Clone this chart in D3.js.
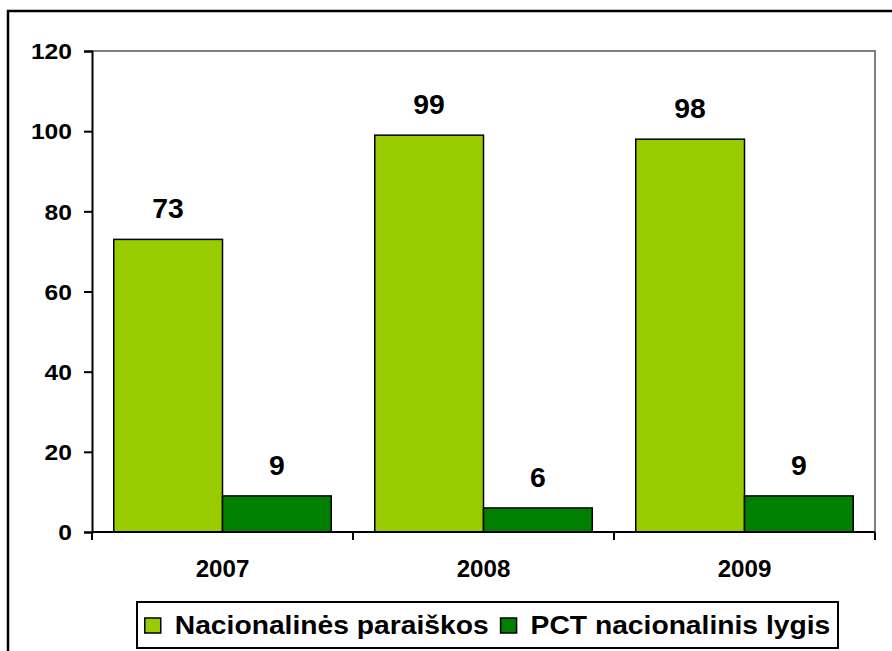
<!DOCTYPE html>
<html>
<head>
<meta charset="utf-8">
<script src="https://cdn.jsdelivr.net/npm/d3@7"></script>
<style>
  html, body { margin: 0; padding: 0; background: #fff; }
  svg { display: block; font-family: Arial, "Liberation Sans", sans-serif; font-weight: bold; }
</style>
</head>
<body>
<div id="chart"></div>
<script>
// data
const years = ['2007', '2008', '2009'];
const seriesNames = ['Nacionalinės paraiškos', 'PCT nacionalinis lygis'];
const nacionalines = [73, 99, 98];
const pct = [9, 6, 9];
const yTicks = [0, 20, 40, 60, 80, 100, 120];
const colors = ['#99cc00', '#008000'];

const width = 892;
const height = 651;
const margin = { top: 51, right: 17, bottom: 119, left: 92 };
const innerW = width - margin.left - margin.right;
const innerH = height - margin.top - margin.bottom;

const rows = years.map((y, i) => ({ year: y, values: [nacionalines[i], pct[i]] }));

const x0 = d3.scaleBand().domain(years).range([0, innerW]).paddingInner(0).paddingOuter(0);
const x1 = d3.scaleBand().domain([0, 1]).range([0, x0.bandwidth()]).paddingOuter(0.2).paddingInner(0);
const y = d3.scaleLinear().domain([0, 120]).range([innerH, 0]);

const svg = d3.select('#chart').append('svg')
  .attr('width', width).attr('height', height);

// outer frame (only left/top visible in the picture)
svg.append('rect')
  .attr('x', 8).attr('y', 11).attr('width', width + 20).attr('height', height + 20)
  .attr('fill', 'none').attr('stroke', '#000').attr('stroke-width', 2.5);

const g = svg.append('g').attr('transform', `translate(${margin.left},${margin.top})`);

// plot area border (grey)
g.append('path')
  .attr('d', `M0,0H${innerW}V${innerH}`)
  .attr('fill', 'none').attr('stroke', '#808080').attr('stroke-width', 2);

const groups = g.selectAll('g.year')
  .data(rows)
  .join('g')
  .attr('class', 'year')
  .attr('transform', (d) => `translate(${x0(d.year)},0)`);

groups.selectAll('rect')
  .data((d) => d.values.map((v, i) => ({ v, i })))
  .join('rect')
  .attr('x', (d) => x1(d.i))
  .attr('y', (d) => y(d.v))
  .attr('width', x1.bandwidth())
  .attr('height', (d) => innerH - y(d.v))
  .attr('fill', (d) => colors[d.i])
  .attr('stroke', '#000')
  .attr('stroke-width', 1.5);

groups.selectAll('text.val')
  .data((d) => d.values.map((v, i) => ({ v, i })))
  .join('text')
  .attr('class', 'val')
  .attr('text-anchor', 'middle')
  .attr('transform', (d) => `translate(${x1(d.i) + x1.bandwidth() / 2},${y(d.v) - 21}) scale(1.05,1)`)
  .style('font-size', '27px')
  .text((d) => d.v);

// y axis
const yAxis = g.append('g')
  .call(d3.axisLeft(y).tickValues(yTicks).tickSize(8).tickPadding(12));
yAxis.attr('font-family', null).attr('font-size', null);
yAxis.selectAll('path, line').attr('stroke', '#000').attr('stroke-width', 2);
yAxis.selectAll('text')
  .style('font-size', '22px').attr('fill', '#000')
  .attr('x', 0).attr('dy', '0.35em')
  .attr('transform', 'translate(-20,0) scale(1.12,1)');

// x axis: ticks at band edges
const xAxis = g.append('g').attr('transform', `translate(0,${innerH})`);
xAxis.append('line').attr('x1', 0).attr('x2', innerW)
  .attr('stroke', '#000').attr('stroke-width', 2);
const edges = years.map((d) => x0(d)).concat([innerW]);
xAxis.selectAll('line.tick')
  .data(edges)
  .join('line')
  .attr('class', 'tick')
  .attr('x1', (d) => d).attr('x2', (d) => d)
  .attr('y1', 0).attr('y2', 8)
  .attr('stroke', '#000').attr('stroke-width', 2);
xAxis.selectAll('text')
  .data(years)
  .join('text')
  .attr('text-anchor', 'middle')
  .attr('transform', (d) => `translate(${x0(d) + x0.bandwidth() / 2},45) scale(1.05,1)`)
  .style('font-size', '23px')
  .text((d) => d);

// legend
const legend = svg.append('g');
const legendBox = legend.append('rect')
  .attr('fill', '#fff').attr('stroke', '#000').attr('stroke-width', 2);
const items = legend.selectAll('g.item')
  .data(seriesNames)
  .join('g')
  .attr('class', 'item');
items.append('rect')
  .attr('width', 16).attr('height', 15)
  .attr('y', -16)
  .attr('fill', (d, i) => colors[i])
  .attr('stroke', '#000').attr('stroke-width', 1.5);
items.append('text')
  .attr('transform', 'translate(30,0) scale(1.13,1)')
  .style('font-size', '25px')
  .text((d) => d);

let cursor = 0;
const gap = 12;
items.each(function () {
  const w = this.getBBox().width;
  d3.select(this).attr('data-x', cursor);
  cursor += w + gap;
});
const totalW = cursor - gap;
const boxX = 137, boxY = 602, boxW = 701, boxH = 46;
const startX = boxX + (boxW - totalW) / 2;
items.attr('transform', function () {
  return `translate(${startX + +this.getAttribute('data-x')},${boxY + 32})`;
});
legendBox.attr('x', boxX).attr('y', boxY).attr('width', boxW).attr('height', boxH);
</script>
</body>
</html>
